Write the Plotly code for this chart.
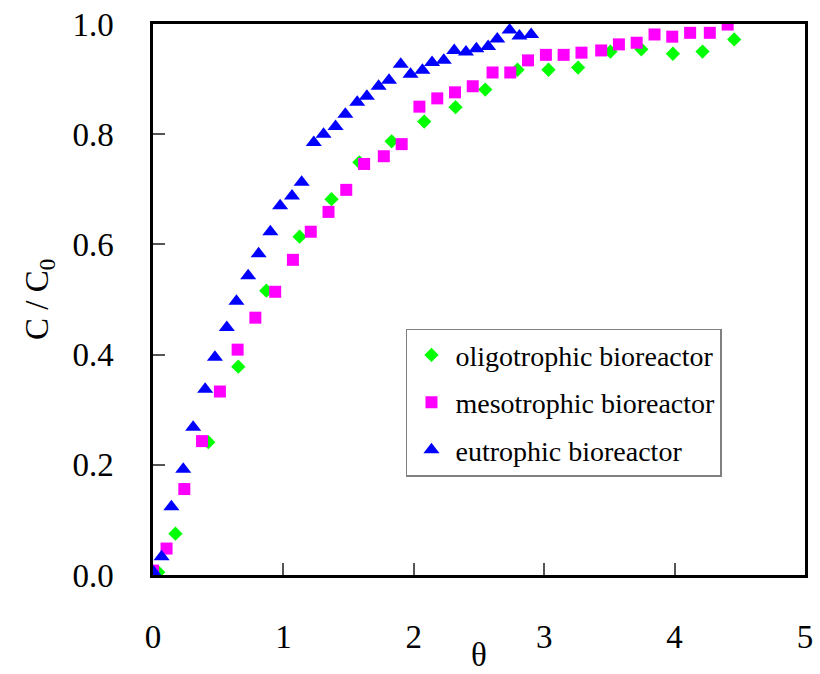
import plotly.graph_objects as go

# Breakthrough curves: dimensionless time θ vs relative concentration C/C0
theta_oligo = [0.04, 0.172, 0.424, 0.654, 0.869, 1.124, 1.369, 1.583, 1.83, 2.08, 2.32,
               2.548, 2.795, 3.033, 3.26, 3.508, 3.745, 3.987, 4.214, 4.457]
c_oligo = [0.005, 0.075, 0.241, 0.378, 0.516, 0.614, 0.682, 0.749, 0.787, 0.823, 0.849,
           0.881, 0.917, 0.917, 0.921, 0.950, 0.954, 0.946, 0.950, 0.972]

theta_meso = [0.0, 0.104, 0.24, 0.376, 0.513, 0.649, 0.785, 0.937, 1.073, 1.21, 1.346,
              1.482, 1.619, 1.77, 1.907, 2.043, 2.18, 2.316, 2.452, 2.604, 2.74, 2.876,
              3.013, 3.149, 3.286, 3.437, 3.573, 3.709, 3.846, 3.982, 4.119, 4.27, 4.407]
c_meso = [0.008, 0.048, 0.156, 0.243, 0.333, 0.409, 0.467, 0.514, 0.572, 0.623, 0.659,
          0.699, 0.746, 0.760, 0.782, 0.850, 0.865, 0.876, 0.887, 0.912, 0.912, 0.934,
          0.944, 0.944, 0.948, 0.952, 0.963, 0.966, 0.981, 0.977, 0.984, 0.984, 0.999]

theta_eu = [0.005, 0.066, 0.141, 0.232, 0.308, 0.40, 0.475, 0.566, 0.64, 0.73, 0.81, 0.90,
            0.975, 1.066, 1.14, 1.233, 1.308, 1.40, 1.475, 1.566, 1.64, 1.73, 1.81, 1.90,
            1.975, 2.066, 2.14, 2.23, 2.31, 2.40, 2.48, 2.57, 2.64, 2.735, 2.81, 2.90]
c_eu = [0.005, 0.033, 0.124, 0.192, 0.268, 0.337, 0.395, 0.449, 0.497, 0.543, 0.583, 0.623,
        0.670, 0.688, 0.713, 0.785, 0.800, 0.814, 0.836, 0.858, 0.869, 0.887, 0.898, 0.927,
        0.909, 0.916, 0.930, 0.934, 0.952, 0.949, 0.955, 0.959, 0.973, 0.989, 0.978, 0.981]

x_ticks = [0, 1, 2, 3, 4, 5]
y_ticks = [0.0, 0.2, 0.4, 0.6, 0.8, 1.0]

FONT = "Liberation Serif, Times New Roman, serif"

fig = go.Figure()
fig.add_trace(go.Scatter(x=theta_oligo, y=c_oligo, mode="markers", name="oligotrophic bioreactor",
                         legendgroup="a",
                         marker=dict(symbol="diamond", size=11, color="#00FF00")))
fig.add_trace(go.Scatter(x=theta_meso, y=c_meso, mode="markers", name="mesotrophic bioreactor",
                         legendgroup="b",
                         marker=dict(symbol="square", size=12, color="#FF00FF")))
fig.add_trace(go.Scatter(x=theta_eu, y=c_eu, mode="markers", name="eutrophic bioreactor",
                         legendgroup="c",
                         marker=dict(symbol="triangle-up", size=14, color="#0000FF")))

fig.update_layout(
    width=820, height=674,
    margin=dict(l=153, r=7, t=22, b=99),
    paper_bgcolor="white", plot_bgcolor="white",
    font=dict(family=FONT, size=33, color="black"),
    showlegend=True,
    legend=dict(
        x=0.388, y=0.447, xanchor="left", yanchor="top",
        bgcolor="white", bordercolor="#808080", borderwidth=1.5,
        font=dict(family=FONT, size=28, color="black"),
        tracegroupgap=8, traceorder="grouped", itemwidth=38,
        entrywidth=290, entrywidthmode="pixels",
    ),
    xaxis=dict(
        range=[0, 5], tickvals=x_ticks, ticktext=[str(v) for v in x_ticks],
        ticks="inside", ticklen=12, tickwidth=1.5, tickcolor="#555555",
        showline=True, linecolor="black", linewidth=2.5, mirror=True,
        showgrid=False, zeroline=False, ticklabelstandoff=31,
    ),
    yaxis=dict(
        range=[0, 1.0], tickvals=y_ticks, ticktext=[f"{v:.1f}" for v in y_ticks],
        ticks="inside", ticklen=12, tickwidth=1.5, tickcolor="#555555",
        showline=True, linecolor="black", linewidth=2.5, mirror=True,
        showgrid=False, zeroline=False, ticklabelstandoff=30,
    ),
    annotations=[
        dict(text="θ", xref="paper", yref="paper", x=0.5, y=0, yshift=-100,
             showarrow=False, font=dict(family=FONT, size=33)),
        dict(text="C / C<sub>0</sub>", xref="paper", yref="paper", x=0, y=0.5,
             xshift=-136, textangle=-90, showarrow=False, font=dict(family=FONT, size=33)),
    ],
)

fig.write_html("out.html")
